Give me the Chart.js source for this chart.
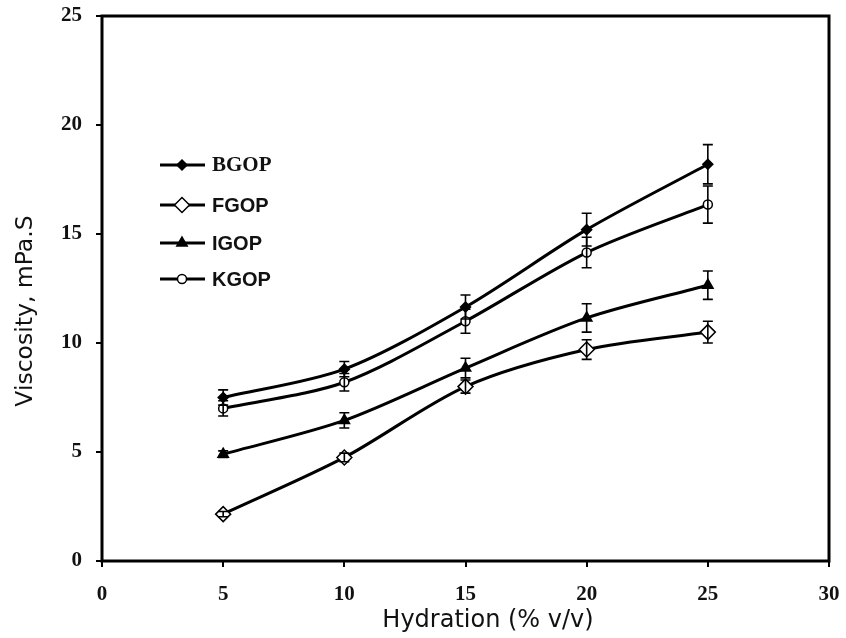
<!DOCTYPE html>
<html>
<head>
<meta charset="utf-8">
<script src="https://cdn.jsdelivr.net/npm/chart.js@4/dist/chart.umd.min.js"></script>
<style>
  html, body { margin: 0; padding: 0; background: #fff; }
  #wrap { width: 846px; height: 638px; }
</style>
</head>
<body>
<div id="wrap"><canvas id="chart" width="846" height="638"></canvas></div>
<script>
// ===== DATA =====
const hydration = [5, 10, 15, 20, 25];
const xTicks = [0, 5, 10, 15, 20, 25, 30];
const yTicks = [0, 5, 10, 15, 20, 25];

const bgop = [7.5, 8.8, 11.65, 15.2, 18.2];
const fgop = [2.15, 4.75, 8.0, 9.7, 10.5];
const igop = [4.9, 6.45, 8.85, 11.15, 12.65];
const kgop = [7.0, 8.2, 11.0, 14.15, 16.35];

const bgopErr = [0.35, 0.35, 0.55, 0.75, 0.9];
const fgopErr = [0.12, 0.2, 0.3, 0.45, 0.5];
const igopErr = [0.15, 0.35, 0.45, 0.65, 0.65];
const kgopErr = [0.35, 0.4, 0.55, 0.7, 0.85];

const seriesNames = ["BGOP", "FGOP", "IGOP", "KGOP"];
const xTitle = "Hydration (% v/v)";
const yTitle = "Viscosity, mPa.S";

// ===== HELPERS =====
function pts(vals, errs) {
  return hydration.map((x, i) => ({ x: x, y: vals[i], err: errs[i] }));
}

function makeSet(label, vals, errs, style, fill, radius) {
  return {
    label: label,
    data: pts(vals, errs),
    borderColor: "#000",
    borderWidth: 3,
    tension: 0.3,
    pointStyle: style,
    pointRadius: radius,
    pointBackgroundColor: fill,
    pointBorderColor: "#000",
    pointBorderWidth: 1.5
  };
}

// error bars, drawn through the scales
const errorBars = {
  id: "errorBars",
  afterDatasetsDraw(chart) {
    const ctx = chart.ctx;
    const xs = chart.scales.x, ys = chart.scales.y;
    ctx.save();
    ctx.strokeStyle = "#000";
    ctx.lineWidth = 1.6;
    chart.data.datasets.forEach(ds => {
      ds.data.forEach(p => {
        const px = xs.getPixelForValue(p.x);
        const top = ys.getPixelForValue(p.y + p.err);
        const bot = ys.getPixelForValue(p.y - p.err);
        ctx.beginPath();
        ctx.moveTo(px, top); ctx.lineTo(px, bot);
        ctx.moveTo(px - 5, top); ctx.lineTo(px + 5, top);
        ctx.moveTo(px - 5, bot); ctx.lineTo(px + 5, bot);
        ctx.stroke();
      });
    });
    ctx.restore();
  }
};

// box round the plot, titles and in-plot legend
const frame = {
  id: "frame",
  afterDraw(chart) {
    const ctx = chart.ctx;
    const a = chart.chartArea;
    ctx.save();
    ctx.strokeStyle = "#000";
    ctx.lineWidth = 3;
    ctx.strokeRect(a.left, a.top, a.right - a.left, a.bottom - a.top);

    ctx.fillStyle = "#111";
    ctx.font = '24px "DejaVu Sans"';
    ctx.textAlign = "center";
    ctx.textBaseline = "alphabetic";
    ctx.fillText(xTitle, 488, 627);

    ctx.save();
    ctx.translate(32, 311);
    ctx.rotate(-Math.PI / 2);
    ctx.font = '23.5px "DejaVu Sans"';
    ctx.fillText(yTitle, 0, 0);
    ctx.restore();

    // legend
    const rows = [165, 205, 243, 279];
    chart.data.datasets.forEach((ds, i) => {
      const y = rows[i];
      ctx.strokeStyle = "#000";
      ctx.lineWidth = 3;
      ctx.beginPath();
      ctx.moveTo(160, y); ctx.lineTo(205, y);
      ctx.stroke();
      ctx.fillStyle = ds.pointBackgroundColor;
      ctx.lineWidth = 1.5;
      Chart.helpers.drawPoint(ctx, {
        pointStyle: ds.pointStyle, radius: ds.pointRadius, rotation: 0, borderWidth: 1.5
      }, 182, y);
      ctx.fillStyle = "#111";
      ctx.textAlign = "left";
      ctx.textBaseline = "middle";
      ctx.font = i === 0 ? 'bold 21px "Liberation Serif"' : 'bold 20px "Liberation Sans"';
      ctx.fillText(seriesNames[i], 212, y + 1);
    });
    ctx.restore();
  }
};

// ===== CHART =====
new Chart(document.getElementById("chart"), {
  type: "line",
  data: {
    datasets: [
      makeSet(seriesNames[0], bgop, bgopErr, "rectRot", "#000", 5),
      makeSet(seriesNames[1], fgop, fgopErr, "rectRot", "#fff", 7.5),
      makeSet(seriesNames[2], igop, igopErr, "triangle", "#000", 6),
      makeSet(seriesNames[3], kgop, kgopErr, "circle", "#fff", 4.5)
    ]
  },
  options: {
    responsive: false,
    animation: false,
    layout: { padding: { left: 0, top: 16, right: 17, bottom: 0 } },
    plugins: { legend: { display: false }, tooltip: { enabled: false } },
    scales: {
      x: {
        type: "linear",
        min: xTicks[0], max: xTicks[xTicks.length - 1],
        afterBuildTicks: s => { s.ticks = xTicks.map(v => ({ value: v })); },
        afterFit: s => { s.height = 77; s.paddingLeft = 0; s.paddingRight = 0; },
        border: { display: false },
        grid: { drawOnChartArea: false, drawTicks: true, tickLength: 6, color: "#000", lineWidth: 2 },
        ticks: { color: "#111", padding: 15, font: { family: "Liberation Serif", weight: "bold", size: 21 } }
      },
      y: {
        min: yTicks[0], max: yTicks[yTicks.length - 1],
        afterBuildTicks: s => { s.ticks = yTicks.map(v => ({ value: v })); },
        afterFit: s => { s.width = 102; s.paddingTop = 0; s.paddingBottom = 0; },
        border: { display: false },
        grid: { drawOnChartArea: false, drawTicks: true, tickLength: 6, color: "#000", lineWidth: 2 },
        ticks: { color: "#111", padding: 14, font: { family: "Liberation Serif", weight: "bold", size: 21 } }
      }
    }
  },
  plugins: [errorBars, frame]
});
</script>
</body>
</html>
